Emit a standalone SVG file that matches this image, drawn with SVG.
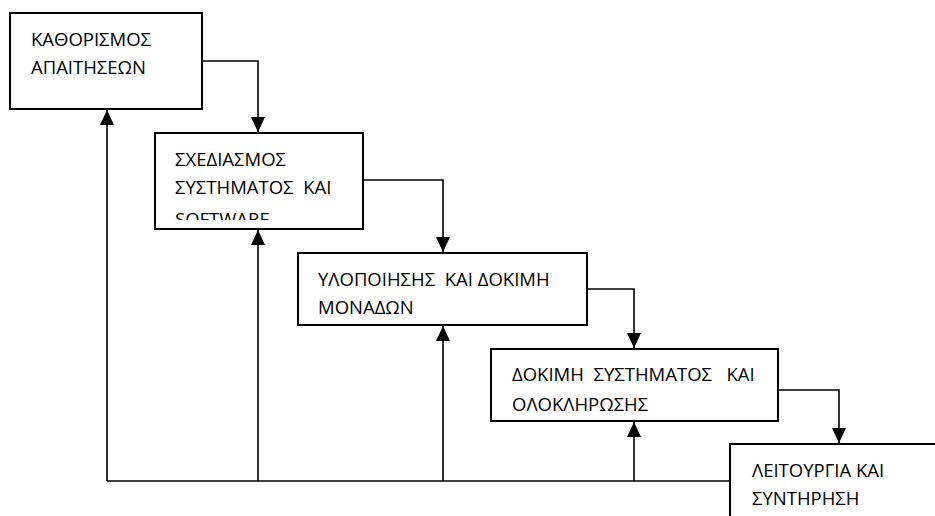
<svg xmlns="http://www.w3.org/2000/svg" width="935" height="516" viewBox="0 0 935 516">
  <style>
    .box { fill: #ffffff; stroke: #000000; stroke-width: 2; }
    .lbl { font-family: "Open Sans", "Liberation Sans", Arial, sans-serif; font-size: 18.5px; fill: #000000; white-space: pre; }
    .wire { fill: none; stroke: #000000; stroke-width: 1.6; }
  </style>
  <defs>
    <marker id="arrow" markerUnits="userSpaceOnUse" markerWidth="16" markerHeight="16" viewBox="0 0 16 16" refX="15" refY="8" orient="auto">
      <path d="M0,1 L15,8 L0,15 Z" fill="#000000"/>
    </marker>
    <clipPath id="clip-design">
      <rect x="156" y="134" width="206" height="86"/>
    </clipPath>
  </defs>
  <rect width="935" height="516" fill="#ffffff"/>

  <g id="requirements">
    <rect class="box" x="10" y="13" width="192" height="96"/>
    <text class="lbl" x="31" y="46">ΚΑΘΟΡΙΣΜΟΣ</text>
    <text class="lbl" x="31" y="74">ΑΠΑΙΤΗΣΕΩΝ</text>
  </g>

  <g id="design">
    <rect class="box" x="155" y="133" width="208" height="96"/>
    <g clip-path="url(#clip-design)">
      <text class="lbl" x="175" y="166">ΣΧΕΔΙΑΣΜΟΣ</text>
      <text class="lbl" x="175" y="194">ΣΥΣΤΗΜΑΤΟΣ  ΚΑΙ</text>
      <text class="lbl" x="175" y="226">SOFTWARE</text>
    </g>
  </g>

  <g id="implementation">
    <rect class="box" x="298" y="253" width="289" height="72"/>
    <text class="lbl" x="318" y="286">ΥΛΟΠΟΙΗΣΗΣ  ΚΑΙ ΔΟΚΙΜΗ</text>
    <text class="lbl" x="318" y="314">ΜΟΝΑΔΩΝ</text>
  </g>

  <g id="integration">
    <rect class="box" x="491" y="349" width="287" height="72"/>
    <text class="lbl" x="512" y="381">ΔΟΚΙΜΗ  ΣΥΣΤΗΜΑΤΟΣ   ΚΑΙ</text>
    <text class="lbl" x="512" y="411">ΟΛΟΚΛΗΡΩΣΗΣ</text>
  </g>

  <g id="operation">
    <rect class="box" x="730" y="444" width="220" height="90"/>
    <text class="lbl" x="752" y="477">ΛΕΙΤΟΥΡΓΙΑ ΚΑΙ</text>
    <text class="lbl" x="752" y="505">ΣΥΝΤΗΡΗΣΗ</text>
  </g>

  <g id="connectors">
    <!-- forward flow -->
    <path class="wire" d="M202,61 H258 V132" marker-end="url(#arrow)"/>
    <path class="wire" d="M363,180 H443 V252" marker-end="url(#arrow)"/>
    <path class="wire" d="M587,289 H634 V348" marker-end="url(#arrow)"/>
    <path class="wire" d="M778,390 H839 V443" marker-end="url(#arrow)"/>
    <!-- feedback return line -->
    <path class="wire" d="M730,481 H107"/>
    <path class="wire" d="M107,481 V110" marker-end="url(#arrow)"/>
    <path class="wire" d="M258,481 V230" marker-end="url(#arrow)"/>
    <path class="wire" d="M443,481 V326" marker-end="url(#arrow)"/>
    <path class="wire" d="M634,481 V422" marker-end="url(#arrow)"/>
  </g>
</svg>
